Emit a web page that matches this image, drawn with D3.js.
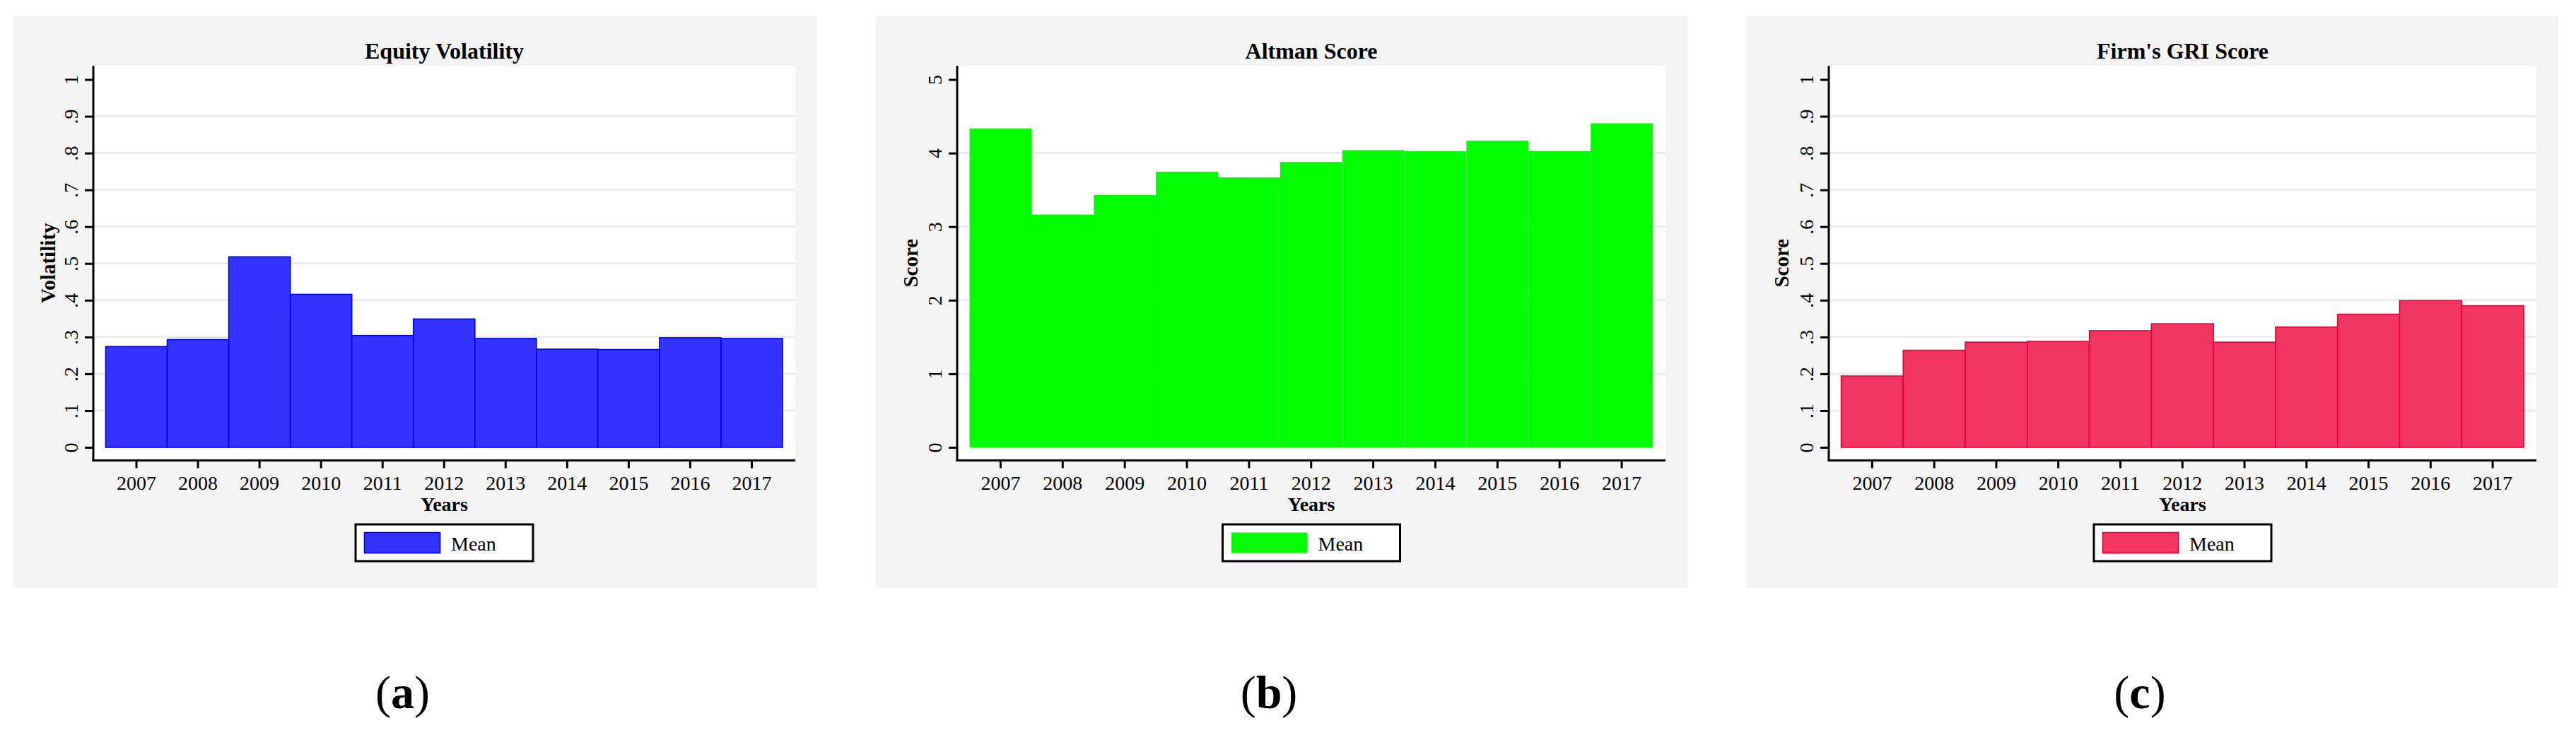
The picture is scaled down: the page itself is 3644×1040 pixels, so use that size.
<!DOCTYPE html>
<html>
<head>
<meta charset="utf-8">
<script src="https://cdn.jsdelivr.net/npm/d3@7"></script>
<style>
  html, body { margin: 0; padding: 0; background: #ffffff; }
  svg { display: block; }
  text { font-family: "Liberation Serif", "Times New Roman", serif; fill: #000; }
</style>
</head>
<body>
<svg id="chart" width="3644" height="1040"></svg>
<script>
// ---------------- data ----------------
const years = [2007, 2008, 2009, 2010, 2011, 2012, 2013, 2014, 2015, 2016, 2017];

const volatilityMean = [0.274, 0.293, 0.518, 0.416, 0.304, 0.349, 0.296, 0.267, 0.266, 0.298, 0.296];
const altmanMean     = [4.335, 3.165, 3.430, 3.747, 3.670, 3.880, 4.040, 4.025, 4.170, 4.025, 4.405];
const griMean        = [0.194, 0.264, 0.286, 0.288, 0.317, 0.336, 0.286, 0.327, 0.362, 0.399, 0.385];

const fractionTicks = [0, 0.1, 0.2, 0.3, 0.4, 0.5, 0.6, 0.7, 0.8, 0.9, 1];
const fractionTickLabels = ["0", ".1", ".2", ".3", ".4", ".5", ".6", ".7", ".8", ".9", "1"];
const scoreTicks = [0, 1, 2, 3, 4, 5];
const scoreTickLabels = ["0", "1", "2", "3", "4", "5"];

const panelTitles = ["Equity Volatility", "Altman Score", "Firm's GRI Score"];
const yTitles = ["Volatility", "Score", "Score"];
const xTitle = "Years";
const legendLabel = "Mean";
const captions = ["a", "b", "c"];

// ---------------- layout ----------------
const panels = [
  { values: volatilityMean, ticks: fractionTicks, tickLabels: fractionTickLabels, yMax: 1,
    grayL: 19, grayR: 1156, axisX: 132, plotR: 1125,
    fill: "#3333ff", stroke: "#0000ee", sw: 1.6 },
  { values: altmanMean, ticks: scoreTicks, tickLabels: scoreTickLabels, yMax: 5,
    grayL: 1239, grayR: 2387, axisX: 1354, plotR: 2356,
    fill: "#00ff00", stroke: "#00ff00", sw: 0 },
  { values: griMean, ticks: fractionTicks, tickLabels: fractionTickLabels, yMax: 1,
    grayL: 2471, grayR: 3619, axisX: 2587, plotR: 3588,
    fill: "#ef3560", stroke: "#e3003a", sw: 1.6 }
];

const grayTop = 23, grayBottom = 832;
const plotTop = 93, xAxisY = 651.5;
const y0 = 633, yTopTick = 112.5;

const svg = d3.select("#chart");

panels.forEach((p, i) => {
  const g = svg.append("g");

  // background
  g.append("rect").attr("x", p.grayL).attr("y", grayTop)
    .attr("width", p.grayR - p.grayL).attr("height", grayBottom - grayTop)
    .attr("fill", "#f4f4f4");
  g.append("rect").attr("x", p.axisX).attr("y", plotTop)
    .attr("width", p.plotR - p.axisX).attr("height", xAxisY - plotTop)
    .attr("fill", "#ffffff");

  const x = d3.scaleBand().domain(years)
    .range([p.axisX + 17.5, p.plotR - 18]).padding(0);
  const y = d3.scaleLinear().domain([0, p.yMax]).range([y0, yTopTick]);

  // gridlines (exclude min and max)
  g.append("g").selectAll("line")
    .data(p.ticks.filter(t => t > 0 && t < p.yMax))
    .join("line")
    .attr("x1", p.axisX).attr("x2", p.plotR)
    .attr("y1", d => y(d)).attr("y2", d => y(d))
    .attr("stroke", "#ebebeb").attr("stroke-width", 3);

  // bars
  g.append("g").selectAll("rect")
    .data(years.map((yr, k) => ({ yr, v: p.values[k] })))
    .join("rect")
    .attr("x", d => x(d.yr))
    .attr("y", d => y(d.v))
    .attr("width", x.bandwidth())
    .attr("height", d => y(0) - y(d.v))
    .attr("fill", p.fill)
    .attr("stroke", p.sw > 0 ? p.stroke : "none")
    .attr("stroke-width", p.sw);

  // y axis
  const yAxis = d3.axisLeft(y).tickValues(p.ticks)
    .tickFormat((d, k) => p.tickLabels[k]).tickSize(12).tickSizeOuter(0).tickPadding(0);
  const ya = g.append("g").attr("transform", `translate(${p.axisX},0)`).call(yAxis);
  ya.select(".domain").remove();
  ya.selectAll(".tick line").attr("stroke", "#000").attr("stroke-width", 3);
  ya.selectAll(".tick text")
    .attr("x", null).attr("dy", null)
    .attr("transform", "translate(-22,0) rotate(-90)")
    .attr("text-anchor", "middle")
    .style("font-size", "28px")
    .style("font-family", '"Liberation Serif", "Times New Roman", serif');
  g.append("line").attr("x1", p.axisX).attr("x2", p.axisX)
    .attr("y1", plotTop).attr("y2", xAxisY + 1.5)
    .attr("stroke", "#000").attr("stroke-width", 3);

  // x axis
  const xAxis = d3.axisBottom(x).tickSize(11).tickSizeOuter(0).tickPadding(0);
  const xa = g.append("g").attr("transform", `translate(0,${xAxisY})`).call(xAxis);
  xa.select(".domain").remove();
  xa.selectAll(".tick line").attr("stroke", "#000").attr("stroke-width", 3);
  xa.selectAll(".tick text")
    .attr("y", 41.5).attr("dy", null)
    .style("font-size", "28px")
    .style("font-family", '"Liberation Serif", "Times New Roman", serif');
  g.append("line").attr("x1", p.axisX - 1.5).attr("x2", p.plotR)
    .attr("y1", xAxisY).attr("y2", xAxisY)
    .attr("stroke", "#000").attr("stroke-width", 3);

  const cx = (p.axisX + p.plotR) / 2;

  // title
  g.append("text").attr("x", cx).attr("y", 83)
    .attr("text-anchor", "middle").attr("font-weight", "bold")
    .style("font-size", "32px").text(panelTitles[i]);

  // x title
  g.append("text").attr("x", cx).attr("y", 723)
    .attr("text-anchor", "middle").attr("font-weight", "bold")
    .style("font-size", "28px").text(xTitle);

  // y title
  g.append("text")
    .attr("transform", `translate(${p.grayL + 59},${(plotTop + xAxisY) / 2}) rotate(-90)`)
    .attr("text-anchor", "middle").attr("font-weight", "bold")
    .style("font-size", "29px").text(yTitles[i]);

  // legend
  const lw = 251, lh = 52;
  const lx = cx - lw / 2, ly = 742;
  g.append("rect").attr("x", lx).attr("y", ly).attr("width", lw).attr("height", lh)
    .attr("fill", "#ffffff").attr("stroke", "#000").attr("stroke-width", 3);
  g.append("rect").attr("x", lx + 12.5).attr("y", ly + 11.5).attr("width", 107).attr("height", 29)
    .attr("fill", p.fill).attr("stroke", p.sw > 0 ? p.stroke : "none").attr("stroke-width", p.sw);
  g.append("text").attr("x", lx + 135).attr("y", ly + 37)
    .style("font-size", "28px").text(legendLabel);

  // caption
  const cap = g.append("text").attr("x", (p.grayL + p.grayR) / 2 - 18).attr("y", 1002)
    .attr("text-anchor", "middle").style("font-size", "66px");
  cap.append("tspan").text("(");
  cap.append("tspan").attr("font-weight", "bold").text(captions[i]);
  cap.append("tspan").text(")");
});
</script>
</body>
</html>
